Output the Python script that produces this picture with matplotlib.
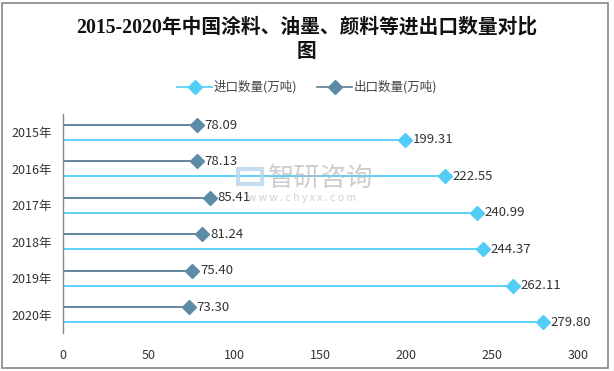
import matplotlib
matplotlib.use("Agg")
import matplotlib.pyplot as plt
from matplotlib.patches import Rectangle
from matplotlib.lines import Line2D

plt.rcParams['font.family'] = ['Noto Sans CJK SC', 'DejaVu Sans']

years = ["2015年", "2016年", "2017年", "2018年", "2019年", "2020年"]
imports = [199.31, 222.55, 240.99, 244.37, 262.11, 279.80]
exports = [78.09, 78.13, 85.41, 81.24, 75.40, 73.30]
xticks = [0, 50, 100, 150, 200, 250, 300]

c_imp = "#52CDF7"
c_exp = "#5B8BA6"
c_exp_line = "#5A7D96"

fig = plt.figure(figsize=(6.14, 3.71), dpi=100)

# watermark (behind axes content)
fig.text(0.437, 0.518, "智研咨询", fontsize=19, color='#BDBDBD', alpha=0.75, ha='left', va='center', zorder=0)
fig.text(0.404, 0.466, "w w w . c h y x x . c o m", fontsize=7.5, color='#C4C4C4', alpha=0.8,
         ha='left', va='center', zorder=0)
fig.patches.append(Rectangle((0.388, 0.505), 0.038, 0.04, transform=fig.transFigure,
                             fill=False, edgecolor='#B8D4EC', lw=3, alpha=0.8, zorder=0))

ax = fig.add_axes([0.1026, 0.103, 0.8388, 0.589])
ax.patch.set_alpha(0)

for i, (imp, exp) in enumerate(zip(imports, exports)):
    ye = i - 0.205
    yi = i + 0.205
    ax.plot([0, exp], [ye, ye], color=c_exp_line, lw=1.3, zorder=2)
    ax.plot([exp], [ye], marker='D', color=c_exp, ms=7.5, zorder=3, mec=c_exp)
    ax.annotate(f"{exp:.2f}", (exp, ye), xytext=(5.5, 0), textcoords='offset points',
                va='center', ha='left', fontsize=9.5, color='#333333')
    ax.plot([0, imp], [yi, yi], color=c_imp, lw=1.3, zorder=2)
    ax.plot([imp], [yi], marker='D', color=c_imp, ms=7.5, zorder=3, mec=c_imp)
    ax.annotate(f"{imp:.2f}", (imp, yi), xytext=(5.5, 0), textcoords='offset points',
                va='center', ha='left', fontsize=9.5, color='#333333')

ax.set_xlim(0, 300)
ax.set_ylim(5.5, -0.5)
ax.set_xticks(xticks)
ax.set_xticklabels([str(t) for t in xticks], fontsize=9, color='#333333')
ax.set_yticks(range(len(years)))
ax.set_yticklabels(years, fontsize=9, color='#333333')
ax.tick_params(axis='both', length=0, pad=8)
ax.tick_params(axis='x', pad=12)
for s in ['top', 'right', 'bottom']:
    ax.spines[s].set_visible(False)
ax.spines['left'].set_color('#888888')
ax.spines['left'].set_linewidth(1.0)

# title
tfam = ['Liberation Serif', 'Noto Sans CJK SC']
fig.text(0.5, 0.927, "2015-2020年中国涂料、油墨、颜料等进出口数量对比", fontsize=14.2,
         fontweight='bold', ha='center', va='center', color='#111111', family=tfam)
fig.text(0.5, 0.86, "图", fontsize=14.2, fontweight='bold', ha='center', va='center', color='#111111',
         family=tfam)

# legend
handles = [Line2D([0, 1], [0, 0], color=c_imp, lw=1.2, marker='D', ms=7, markevery=[1]),
           Line2D([0, 1], [0, 0], color=c_exp_line, lw=1.2, marker='D', ms=7, markevery=[1], mfc=c_exp, mec=c_exp)]
leg = fig.legend(handles, ["进口数量(万吨)", "出口数量(万吨)"], loc='center', bbox_to_anchor=(0.5, 0.765),
                 ncol=2, frameon=False, fontsize=9, handlelength=2.8, handletextpad=0.1, columnspacing=1.6,
                 labelcolor='#444444')

# outer border
fig.patches.append(Rectangle((0.004, 0.008), 0.986, 0.984, transform=fig.transFigure,
                             fill=False, edgecolor='#888888', lw=1.2))

fig.savefig("out.png", dpi=100)
